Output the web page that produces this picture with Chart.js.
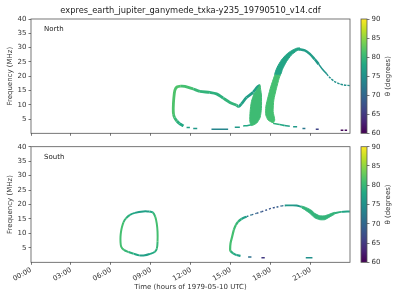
<!DOCTYPE html>
<html>
<head>
<meta charset="utf-8">
<script src="https://cdn.jsdelivr.net/npm/chart.js@4.4.0/dist/chart.umd.min.js"></script>
<style>
body { margin: 0; background: #fff; }
#wrap { position: relative; width: 400px; height: 300px; }
canvas { position: absolute; }
</style>
</head>
<body>
<div id="wrap">
  <canvas id="north" width="355" height="140" style="left:0;top:0"></canvas>
  <canvas id="northBar" width="45" height="140" style="left:355px;top:0"></canvas>
  <canvas id="south" width="355" height="160" style="left:0;top:140px"></canvas>
  <canvas id="southBar" width="45" height="130" style="left:355px;top:140px"></canvas>
</div>
<script>
// ticks
var hourTicks = [0, 3, 6, 9, 12, 15, 18, 21];
var freqTicks = [5, 10, 15, 20, 25, 30, 35, 40];
var thetaTicks = [60, 65, 70, 75, 80, 85, 90];
var thetaRange = [60, 90];

// ---- North ----
// first loop (left side, top band, V and rising arm)
var nLoopT  = [11.45, 11.15, 10.95, 10.78, 10.7, 10.68, 10.72, 10.8, 10.95, 11.25, 11.55, 12.18, 12.68, 13.43, 13.93, 14.43, 14.93, 15.43, 15.6, 15.8, 16.18, 16.68, 17.0, 17.2];
var nLoopF  = [2.6, 3.4, 4.3, 5.5, 6.7, 8.8, 12.2, 15.0, 16.2, 16.5, 16.4, 15.5, 14.7, 14.3, 13.8, 12.3, 10.8, 9.8, 9.4, 10.3, 12.5, 14.4, 16.2, 16.8];
var nLoopTh = [78, 79, 80, 81, 81.5, 81.5, 81.5, 81.5, 81.5, 81, 81, 80, 79.5, 79, 79, 79.5, 79.5, 79, 77.5, 77, 76.5, 77, 77, 77];
// low tail into first thick band
var nTail1T = [15.93, 16.3, 16.55];
var nTail1F = [2.55, 2.75, 3.0];
var nTail1Th = [78, 78, 79];
// first thick band (outline)
var nBand1T = [17.18, 17.3, 17.3, 17.2, 16.95, 16.55, 16.43, 16.45, 16.55, 16.75];
var nBand1F = [17.1, 13.4, 8.75, 5.5, 3.6, 2.7, 4.1, 7.6, 11.1, 14.0];
var nBand1Th = 80.5;
// second thick band, upper and lower parts (outline)
var nBand2UpT = [20.18, 19.93, 19.55, 19.18, 18.8, 18.48, 18.3, 18.73, 18.88, 19.18, 19.55, 19.93, 20.23];
var nBand2UpF = [29.9, 29.75, 28.9, 27.65, 25.65, 23.1, 20.5, 20.5, 22.4, 25.06, 27.4, 28.8, 29.4];
var nBand2UpTh = 77.5;
var nBand2LoT = [18.3, 18.25, 18.0, 17.8, 17.63, 17.63, 17.8, 18.18, 18.3, 18.18, 18.23, 18.43, 18.63, 18.73];
var nBand2LoF = [20.5, 19.8, 16.3, 12.8, 9.3, 6.4, 4.65, 3.7, 4.65, 7.6, 11.65, 15.75, 19.25, 20.5];
var nBand2LoTh = 81;
// arc falling to the right
var nArcAT = [20.1, 20.55, 20.93, 21.3, 21.6];
var nArcAF = [29.4, 29.0, 27.8, 25.9, 24.2];
var nArcATh = [76.5, 76.5, 76.5, 76, 76];
var nArcBT = [21.6, 21.9, 22.2];
var nArcBF = [24.2, 22.3, 20.8];
var nArcBTh = [75.5, 75.5, 75.5];
var nArcCT = [22.2, 22.43, 22.8, 23.18, 23.5, 23.93];
var nArcCF = [20.8, 19.5, 18.1, 17.3, 16.9, 16.7];
var nArcCTh = [75, 75, 75, 75, 75, 75];
// low tail after second band
var nTail2T = [18.18, 18.68, 19.05, 19.43];
var nTail2F = [3.5, 3.1, 2.7, 2.45];
var nTail2Th = [79, 78, 77, 77];
// short pieces near the bottom
var nDashT0 = [11.68, 12.18, 13.55, 15.3, 19.68, 20.38, 21.38, 23.25, 23.55];
var nDashT1 = [11.93, 12.48, 14.8, 15.68, 19.98, 20.6, 21.6, 23.45, 23.73];
var nDashF  = [2.0, 1.7, 1.4, 2.1, 2.25, 1.7, 1.4, 1.1, 1.1];
var nDashTh = [77, 76, 73.5, 76, 76, 72, 66, 60.5, 60.5];

// ---- South ----
var sLoopT  = [8.9, 8.43, 7.8, 7.43, 7.13, 6.95, 6.83, 6.76, 6.72, 6.72, 6.77, 6.97, 7.32, 7.7, 8.13, 8.55, 8.93, 9.28, 9.45, 9.5, 9.5, 9.44, 9.33, 9.15, 8.9];
var sLoopF  = [17.6, 17.6, 17.1, 16.4, 15.2, 13.9, 12.2, 10.6, 8.9, 7.1, 5.4, 4.3, 3.55, 3.0, 2.4, 2.4, 2.9, 3.55, 4.8, 7.1, 10.6, 13.5, 15.7, 17.2, 17.6];
var sLoopTh = [77, 77, 78, 79, 80, 81, 81, 81, 81, 81, 81, 80, 79, 78, 77, 77, 78, 79, 80, 81, 81, 81, 80, 78, 77];
var sRiseT  = [15.73, 15.43, 15.18, 14.98, 14.95, 14.98, 15.1, 15.23, 15.38, 15.55, 15.8, 16.18];
var sRiseF  = [2.2, 2.5, 3.1, 3.9, 4.5, 6.57, 8.87, 11.2, 12.9, 14.05, 15.0, 15.8];
var sRiseTh = [77, 78, 79, 81, 81, 81, 81, 80.5, 80, 79, 77, 76];
var sDotT  = [16.18, 16.55, 16.93, 17.3, 17.68, 18.05, 18.43, 18.8, 19.05];
var sDotF  = [15.8, 16.4, 16.95, 17.5, 18.1, 18.7, 19.1, 19.5, 19.65];
var sDotTh = [72, 70, 69, 68, 68, 68, 69, 71, 74];
var sFlatT  = [19.05, 19.5, 19.93, 20.3];
var sFlatF  = [19.65, 19.7, 19.65, 19.2];
var sFlatTh = [76, 76, 76, 77];
var sDipT = [20.3, 20.68, 21.05, 21.3, 21.68, 22.05, 22.43, 22.8, 22.8, 22.43, 22.05, 21.68, 21.3, 20.93, 20.55, 20.3];
var sDipF = [19.5, 18.9, 18.0, 16.95, 16.1, 16.1, 16.7, 17.3, 16.7, 15.7, 14.75, 14.75, 15.4, 16.95, 18.2, 18.9];
var sDipTh = 79.5;
var sEndT  = [22.8, 23.3, 23.93];
var sEndF  = [17.0, 17.45, 17.6];
var sEndTh = [79, 77.5, 77];
var sDashT0 = [16.3, 17.3, 20.63];
var sDashT1 = [16.55, 17.55, 21.13];
var sDashF  = [1.85, 1.55, 1.55];
var sDashTh = [71, 65, 75];

var VIR = ['#440154', '#482475', '#414487', '#355f8d', '#2a788e', '#21918c', '#22a884', '#44bf70', '#7ad151', '#bddf26', '#fde725'];
function hex(c) { return [parseInt(c.substr(1, 2), 16), parseInt(c.substr(3, 2), 16), parseInt(c.substr(5, 2), 16)]; }
function viridis(th) {
  var u = Math.max(0, Math.min(1, (th - 60) / 30)) * 10;
  var i = Math.min(9, Math.floor(u)), k = u - i;
  var a = hex(VIR[i]), b = hex(VIR[i + 1]);
  return 'rgb(' + [0, 1, 2].map(function (j) { return Math.round(a[j] + (b[j] - a[j]) * k); }).join(',') + ')';
}

function pts(ts, fs) { return ts.map(function (t, i) { return {x: t, y: fs[i]}; }); }
function curve(ts, fs, th, w, dash) {
  return {
    data: pts(ts, fs), borderWidth: w, borderDash: dash || [],
    borderColor: viridis(th[0]),
    segment: {borderColor: function (c) { return viridis(th[c.p0DataIndex]); }},
    pointRadius: 0, tension: 0.3, fill: false, borderJoinStyle: 'round'
  };
}
function band(ts, fs, th) {
  var c = viridis(th);
  return {data: pts(ts, fs), fill: 'shape', backgroundColor: c, borderColor: c, borderWidth: 1, pointRadius: 0, tension: 0.2};
}
function dashes(t0, t1, f, th, w) {
  return t0.map(function (a, i) { return curve([a, t1[i]], [f[i], f[i]], [th[i], th[i]], w); });
}

var FONT = 'DejaVu Sans';
var TXT = '#333';

function decor(label, title) {
  return {
    id: 'decor',
    afterDraw: function (chart) {
      var ctx = chart.ctx, a = chart.chartArea;
      ctx.save();
      ctx.strokeStyle = '#555'; ctx.lineWidth = 0.8;
      ctx.strokeRect(a.left, a.top, a.right - a.left, a.bottom - a.top);
      ctx.fillStyle = '#222';
      ctx.font = '7px "' + FONT + '"';
      ctx.textAlign = 'left'; ctx.textBaseline = 'middle';
      ctx.fillText(label, a.left + 13, a.top + 10.5);
      if (title) {
        ctx.font = '8.3px "' + FONT + '"';
        ctx.textAlign = 'center';
        ctx.fillText(title, (a.left + a.right) / 2, 11);
      }
      ctx.restore();
    }
  };
}

function fmtHour(v) { return (v < 10 ? '0' : '') + v + ':00'; }

function panelOptions(padTop, xHeight, showLabels) {
  return {
    responsive: false, animation: false,
    layout: {padding: {top: padTop, right: 5, bottom: 0, left: 0}},
    plugins: {legend: {display: false}, tooltip: {enabled: false}},
    scales: {
      x: {
        type: 'linear', min: 0, max: 23.95,
        afterBuildTicks: function (s) { s.ticks = hourTicks.map(function (v) { return {value: v}; }); },
        afterFit: function (s) { s.height = xHeight; },
        grid: {drawOnChartArea: false, tickLength: 2.5, color: '#555', lineWidth: 0.8},
        border: {display: false},
        ticks: {
          autoSkip: false, minRotation: 30, maxRotation: 30, padding: 1,
          font: {family: FONT, size: 7}, color: TXT,
          callback: function (v) { return showLabels ? fmtHour(v) : ''; }
        },
        title: {
          display: showLabels, text: 'Time (hours of 1979-05-10 UTC)',
          font: {family: FONT, size: 7}, color: TXT, padding: {top: 0, bottom: 8.8}
        }
      },
      y: {
        min: 0, max: 40,
        afterBuildTicks: function (s) { s.ticks = freqTicks.map(function (v) { return {value: v}; }); },
        afterFit: function (s) { s.width = 31; },
        grid: {drawOnChartArea: false, tickLength: 2.5, color: '#555', lineWidth: 0.8},
        border: {display: false},
        ticks: {padding: 2, font: {family: FONT, size: 7}, color: TXT},
        title: {
          display: true, text: 'Frequency (MHz)',
          font: {family: FONT, size: 7}, color: TXT, padding: {top: 5.5, bottom: 0}
        }
      }
    }
  };
}

var northSets = [
  band(nBand1T, nBand1F, nBand1Th),
  band(nBand2LoT, nBand2LoF, nBand2LoTh),
  band(nBand2UpT, nBand2UpF, nBand2UpTh),
  curve(nLoopT, nLoopF, nLoopTh, 2.8),
  curve(nTail1T, nTail1F, nTail1Th, 1.5),
  curve(nArcAT, nArcAF, nArcATh, 2.5),
  curve(nArcBT, nArcBF, nArcBTh, 1.6),
  curve(nArcCT, nArcCF, nArcCTh, 1.4, [2.5, 1]),
  curve(nTail2T, nTail2F, nTail2Th, 1.5)
].concat(dashes(nDashT0, nDashT1, nDashF, nDashTh, 1.5));

var southSets = [
  band(sDipT, sDipF, sDipTh),
  curve(sLoopT, sLoopF, sLoopTh, 2),
  curve(sRiseT, sRiseF, sRiseTh, 2.2),
  curve(sDotT, sDotF, sDotTh, 1.4, [2, 2]),
  curve(sFlatT, sFlatF, sFlatTh, 1.8),
  curve(sEndT, sEndF, sEndTh, 2)
].concat(dashes(sDashT0, sDashT1, sDashF, sDashTh, 1.5));

new Chart(document.getElementById('north'), {
  type: 'line',
  data: {datasets: northSets},
  options: panelOptions(19, 6.7, false),
  plugins: [decor('North', 'expres_earth_jupiter_ganymede_txka-y235_19790510_v14.cdf')]
});

new Chart(document.getElementById('south'), {
  type: 'line',
  data: {datasets: southSets},
  options: panelOptions(6.7, 37.7, true),
  plugins: [decor('South')]
});

function colorbar(id, padTop, padBottom) {
  new Chart(document.getElementById(id), {
    type: 'bar',
    data: {
      labels: [''],
      datasets: [{
        data: [thetaRange],
        backgroundColor: function (c) {
          var a = c.chart.chartArea;
          if (!a) return VIR[0];
          var g = c.chart.ctx.createLinearGradient(0, a.bottom, 0, a.top);
          VIR.forEach(function (col, i) { g.addColorStop(i / 10, col); });
          return g;
        },
        barPercentage: 1, categoryPercentage: 1, borderWidth: 0
      }]
    },
    options: {
      responsive: false, animation: false,
      layout: {padding: {left: 6, right: 0, top: padTop, bottom: padBottom}},
      plugins: {legend: {display: false}, tooltip: {enabled: false}},
      scales: {
        x: {display: false},
        y: {
          position: 'right', min: 60, max: 90,
          afterBuildTicks: function (s) { s.ticks = thetaTicks.map(function (v) { return {value: v}; }); },
          afterFit: function (s) { s.width = 33; },
          grid: {drawOnChartArea: false, tickLength: 2.5, color: '#555', lineWidth: 0.8},
          border: {display: false},
          ticks: {padding: 2, font: {family: FONT, size: 7}, color: TXT}
        }
      }
    },
    plugins: [{
      id: 'cbDecor',
      afterDraw: function (chart) {
        var ctx = chart.ctx, a = chart.chartArea;
        ctx.save();
        ctx.strokeStyle = '#555'; ctx.lineWidth = 0.8;
        ctx.strokeRect(a.left, a.top, a.right - a.left, a.bottom - a.top);
        ctx.translate(33, (a.top + a.bottom) / 2);
        ctx.rotate(-Math.PI / 2);
        ctx.fillStyle = TXT;
        ctx.font = '7px "' + FONT + '"';
        ctx.textAlign = 'center'; ctx.textBaseline = 'middle';
        ctx.fillText('\u03b8 (degrees)', 0, 0);
        ctx.restore();
      }
    }]
  });
}

colorbar('northBar', 19, 6.7);
colorbar('southBar', 6.7, 7.7);
</script>
</body>
</html>
